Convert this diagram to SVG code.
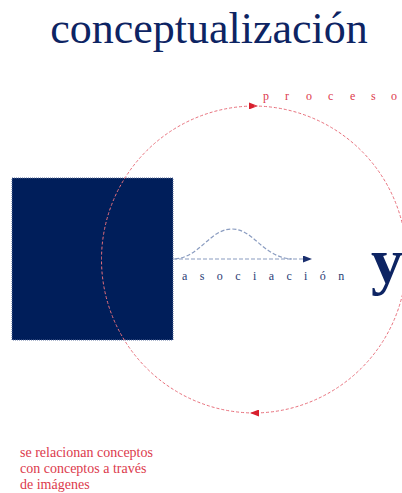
<svg xmlns="http://www.w3.org/2000/svg" width="402" height="493" viewBox="0 0 402 493">
<style>
.serif{font-family:"Liberation Serif","Times New Roman",serif}
.red{fill:#dc3a4c}
.navy{fill:#0d2463}
.circ{fill:none;stroke:#e8707c;stroke-width:1;stroke-dasharray:3 2}
.blue{fill:none;stroke:#8a9cc0;stroke-width:1.2;stroke-dasharray:4 2}
</style>
<defs>
<marker id="ar" markerUnits="userSpaceOnUse" markerWidth="9" markerHeight="7" refX="7" refY="3.5" orient="auto">
<path d="M0,0 L9,3.5 L0,7 z" fill="#d8202e"/>
</marker>
<marker id="ab" markerUnits="userSpaceOnUse" markerWidth="9" markerHeight="7" refX="7" refY="3.5" orient="auto">
<path d="M0,0 L9,3.5 L0,7 z" fill="#1a2f6e"/>
</marker>
</defs>
<rect width="402" height="493" fill="#ffffff"/>
<g id="title"><text class="serif navy" x="209" y="43" font-size="44" text-anchor="middle">conceptualización</text></g>
<g id="square"><rect x="12" y="178" width="161" height="162" fill="#001e5a" stroke="#5a6e9c" stroke-width="1" stroke-dasharray="1 1"/></g>
<g id="proceso"><text class="serif red" x="263 285 306 328 350 371 391" y="100" font-size="12">proceso</text></g>
<g id="asociacion"><text class="serif" fill="#2a3c74" x="182" y="280" font-size="12" letter-spacing="12.4">asociación</text></g>
<g id="y"><text class="serif navy" x="371" y="282" font-size="64" font-weight="bold">y</text></g>
<g id="note" class="serif red" font-size="14">
<text x="20" y="457">se relacionan conceptos</text>
<text x="20" y="473">con conceptos a través</text>
<text x="20" y="489">de imágenes</text>
</g>
<g id="connectors">
<path class="circ" d="M254,413 A153.5,153.5 0 0 1 256,106" marker-end="url(#ar)"/>
<path class="circ" d="M254,106 A153.5,153.5 0 0 1 252,413" marker-end="url(#ar)"/>
<path class="blue" d="M173,259 L310,259" marker-end="url(#ab)"/>
<path class="blue" d="M175,259 C200,257 210,229 232,229 C254,229 262,257 292,259"/>
</g>
</svg>
